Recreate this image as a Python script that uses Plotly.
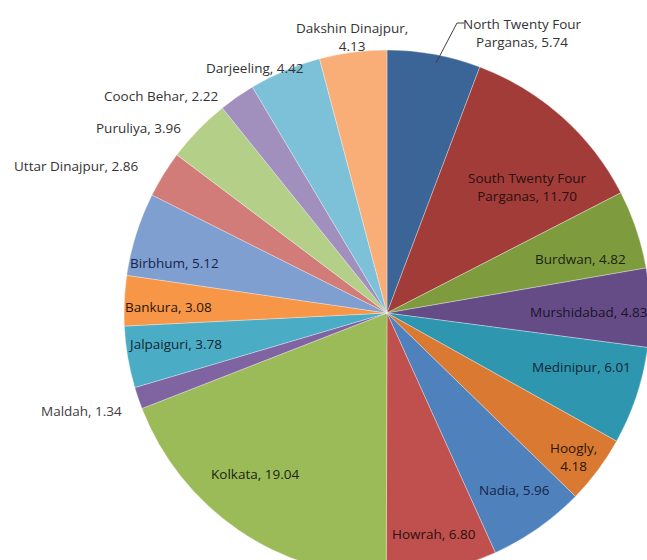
import plotly.graph_objects as go

districts = ["North Twenty Four Parganas", "South Twenty Four Parganas", "Burdwan", "Murshidabad",
             "Medinipur", "Hoogly", "Nadia", "Howrah", "Kolkata", "Maldah", "Jalpaiguri", "Bankura",
             "Birbhum", "Uttar Dinajpur", "Puruliya", "Cooch Behar", "Darjeeling", "Dakshin Dinajpur"]
values = [5.74, 11.70, 4.82, 4.83, 6.01, 4.18, 5.96, 6.80, 19.04, 1.34, 3.78, 3.08,
          5.12, 2.86, 3.96, 2.22, 4.42, 4.13]
colors = ["#3B6497", "#A23C39", "#7E9C3E", "#654C87", "#2F96B0", "#DA7A32",
          "#4F81BD", "#C0504D", "#9BBB59", "#8064A2", "#4BACC6", "#F79646",
          "#7F9FD0", "#D27C7A", "#B4CF88", "#A18FBE", "#7CC1D8", "#F9AE78"]

W, H = 670, 600
cx, cy, r = 387, 313, 263

def px(x):
    return x / W

def py(y):
    return 1 - y / H

fig = go.Figure(go.Pie(
    labels=districts, values=values, sort=False, direction="clockwise", rotation=0,
    marker=dict(colors=colors, line=dict(color="rgba(255,255,255,0.45)", width=0.7)),
    textinfo="none", hoverinfo="label+value", showlegend=False,
    domain=dict(x=[px(cx - r), px(cx + r)], y=[py(cy + r), py(cy - r)]),
))

# label placement (pixel centres) per district, text built from data
label_pos = {
    "North Twenty Four Parganas": (522, 33, ["North Twenty Four", "Parganas, {v}"], "#333333"),
    "South Twenty Four Parganas": (527, 187, ["South Twenty Four", "Parganas, {v}"], "#2a1010"),
    "Burdwan": (580, 259, ["Burdwan, {v}"], "#1c2410"),
    "Murshidabad": (589, 312, ["Murshidabad, {v}"], "#1a1428"),
    "Medinipur": (581, 367, ["Medinipur, {v}"], "#102830"),
    "Hoogly": (573, 457, ["Hoogly,", "{v}"], "#2a1606"),
    "Nadia": (514, 490, ["Nadia, {v}"], "#15254a"),
    "Howrah": (434, 534, ["Howrah, {v}"], "#2a1010"),
    "Kolkata": (255, 474, ["Kolkata, {v}"], "#1c2410"),
    "Maldah": (81, 411, ["Maldah, {v}"], "#404040"),
    "Jalpaiguri": (175, 344, ["Jalpaiguri, {v}"], "#102830"),
    "Bankura": (168, 307, ["Bankura, {v}"], "#2a1606"),
    "Birbhum": (175, 263, ["Birbhum, {v}"], "#15254a"),
    "Uttar Dinajpur": (76, 166, ["Uttar Dinajpur, {v}"], "#333333"),
    "Puruliya": (138, 128, ["Puruliya, {v}"], "#333333"),
    "Cooch Behar": (161, 96, ["Cooch Behar, {v}"], "#333333"),
    "Darjeeling": (255, 68, ["Darjeeling, {v}"], "#333333"),
    "Dakshin Dinajpur": (352, 37, ["Dakshin Dinajpur,", "{v}"], "#333333"),
}

annotations = []
for name, val in zip(districts, values):
    x, y, lines, col = label_pos[name]
    text = "<br>".join(l.format(v=f"{val:.2f}") for l in lines)
    annotations.append(dict(x=px(x), y=py(y), xref="paper", yref="paper", text=text,
                            showarrow=False, xanchor="center", yanchor="middle",
                            font=dict(family="Open Sans", size=13.5, color=col)))

shapes = [
    dict(type="line", xref="paper", yref="paper", x0=px(436), y0=py(63), x1=px(457), y1=py(23),
         line=dict(color="#404040", width=1)),
    dict(type="line", xref="paper", yref="paper", x0=px(457), y0=py(23), x1=px(464), y1=py(23),
         line=dict(color="#404040", width=1)),
]

fig.update_layout(width=W, height=H, margin=dict(l=0, r=0, t=0, b=0),
                  paper_bgcolor="white", plot_bgcolor="white",
                  annotations=annotations, shapes=shapes)

fig.write_html("out.html",
               post_script="document.body.style.margin='0';document.body.style.overflow='hidden';document.documentElement.style.overflow='hidden';")
